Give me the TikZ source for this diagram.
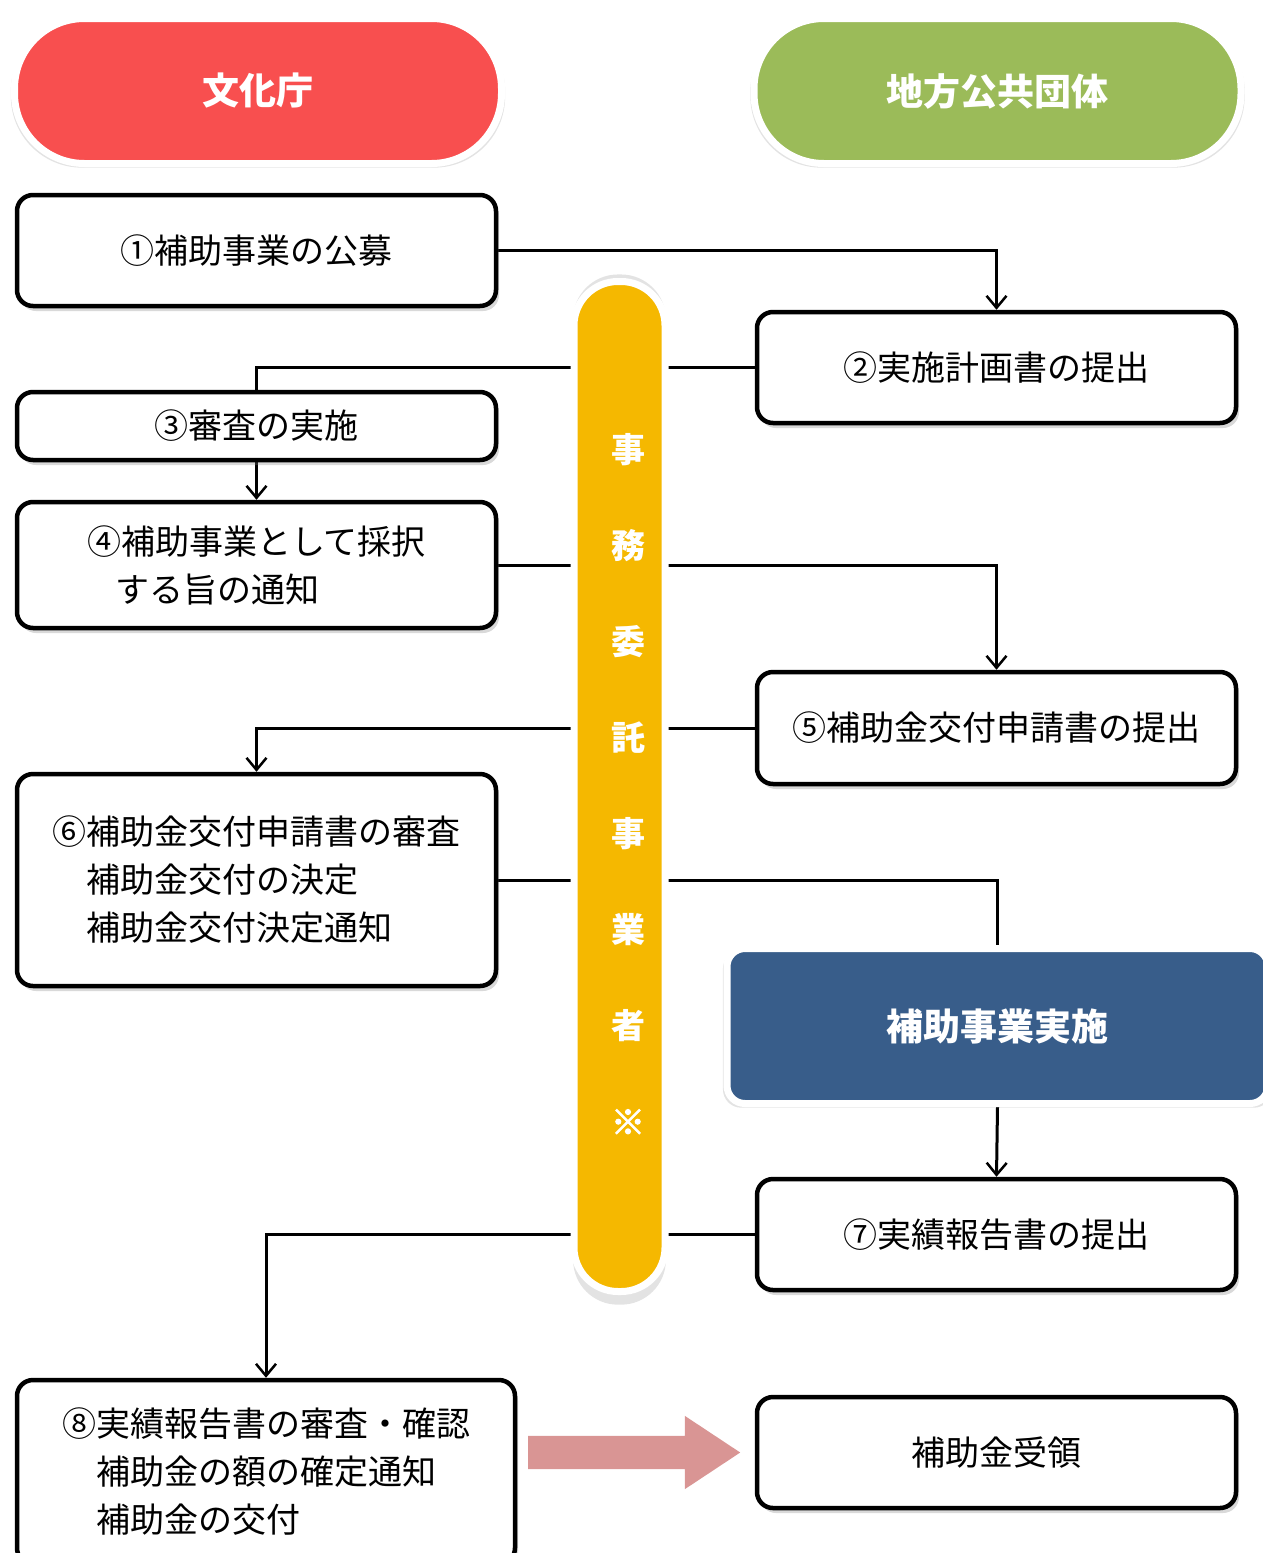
\documentclass[tikz,border=0pt]{standalone}
\usepackage{fontspec}
\setmainfont{Noto Sans CJK JP}
\newfontfamily\heavyfont{Noto Sans CJK JP}[FakeBold=3]
\usetikzlibrary{arrows.meta,shapes.arrows,shadows,backgrounds}

\definecolor{agencyred}{HTML}{F84F4F}
\definecolor{localgreen}{HTML}{9BBB59}
\definecolor{implblue}{HTML}{385D8A}
\definecolor{baryellow}{HTML}{F5B800}
\definecolor{flowpink}{HTML}{D99594}

\begin{document}
\begin{tikzpicture}[x=1pt,y=-1pt,
    box/.style={draw=black, line width=4.5pt, rounded corners=16pt, fill=white,
        minimum width=479pt, minimum height=111pt, align=left,
        font=\fontsize{34}{48}\selectfont,
        drop shadow={shadow xshift=3pt,shadow yshift=-5pt,opacity=.3}},
    pill/.style={draw=white, line width=7pt, rounded corners=70pt,
        minimum width=487pt, minimum height=145pt, text=white,
        font=\fontsize{37}{40}\selectfont\bfseries,
        drop shadow={shadow xshift=0pt,shadow yshift=-3pt,shadow scale=1.015,opacity=.22}},
    bartext/.style={text=white, font=\fontsize{34}{40}\selectfont\bfseries},
    link/.style={line width=3pt},
    tip/.style={-{Straight Barb[length=12pt,width=20pt,line width=2.5pt]}}]

    \useasboundingbox (0,0) rectangle (1262,1553);

    % header pills
    \node[pill, fill=agencyred] (agency) at (258,91) {文化庁};
    \node[pill, fill=localgreen] (local) at (997.5,91) {地方公共団体};

    % left column
    \node[box] (box1) at (256.5,250.5) {①補助事業の公募};
    \node[box, minimum height=68pt] (box3) at (256.5,426) {③審査の実施};
    \node[box, minimum height=126pt] (box4) at (256.5,565)
        {④補助事業として採択\\\hspace*{28pt}する旨の通知};
    \node[box, minimum height=212pt] (box6) at (256.5,880)
        {⑥補助金交付申請書の審査\\　補助金交付の決定\\　補助金交付決定通知};
    \node[box, minimum width=498pt, minimum height=184pt] (box8) at (266,1472)
        {⑧実績報告書の審査・確認\\　補助金の額の確定通知\\　補助金の交付};

    % right column
    \node[box] (box2) at (996.5,367.5) {②実施計画書の提出};
    \node[box, minimum height=112pt] (box5) at (996.5,728) {⑤補助金交付申請書の提出};
    \node[pill, fill=implblue, rounded corners=18pt, minimum width=541pt,
        minimum height=155pt] (impl) at (997.5,1026) {補助事業実施};
    \node[box] (box7) at (996.5,1234.5) {⑦実績報告書の提出};
    \node[box] (recv) at (996.5,1452.5) {補助金受領};

    % middle bar
    \node[draw=white, line width=7pt, fill=baryellow, rounded corners=44pt,
        minimum width=91pt, minimum height=1010pt,
        drop shadow={shadow xshift=0pt,shadow yshift=-3pt,shadow scale=1.02,opacity=.22}]
        (bar) at (619.5,786.5) {};
    \foreach \c [count=\i] in {事,務,委,託,事,業,者}
    {
        \node[bartext] (bar\i) at (628,{450+96*(\i-1)}) {\c};
    }
    \node[bartext, font=\fontsize{34}{40}\selectfont\heavyfont] (bar8) at (628,1122) {※};

    \node[single arrow, fill=flowpink, anchor=tail, inner xsep=0pt, inner ysep=16.5pt,
        text height=0pt, text depth=0pt, text width=0pt,
        minimum height=212pt, minimum width=0pt, single arrow head extend=20pt,
        single arrow tip angle=67]
        (flow) at (528,1452.5) {};

    \begin{scope}[on background layer]
        \draw[link,tip] (box1.east) -| (box2.north);
        \draw[link] (box2.west) -| (box3.north);
        \draw[link,tip] (box3.south) -- (box4.north);
        \draw[link,tip] (box4.east) -| (box5.north);
        \draw[link,tip] (box5.west) -| (box6.north);
        \draw[link] (box6.east) -| (impl.north);
        \draw[link,tip] (impl.south) -- (box7.north);
        \draw[link,tip] (box7.west) -| (box8.north);
    \end{scope}

\end{tikzpicture}
\end{document}
